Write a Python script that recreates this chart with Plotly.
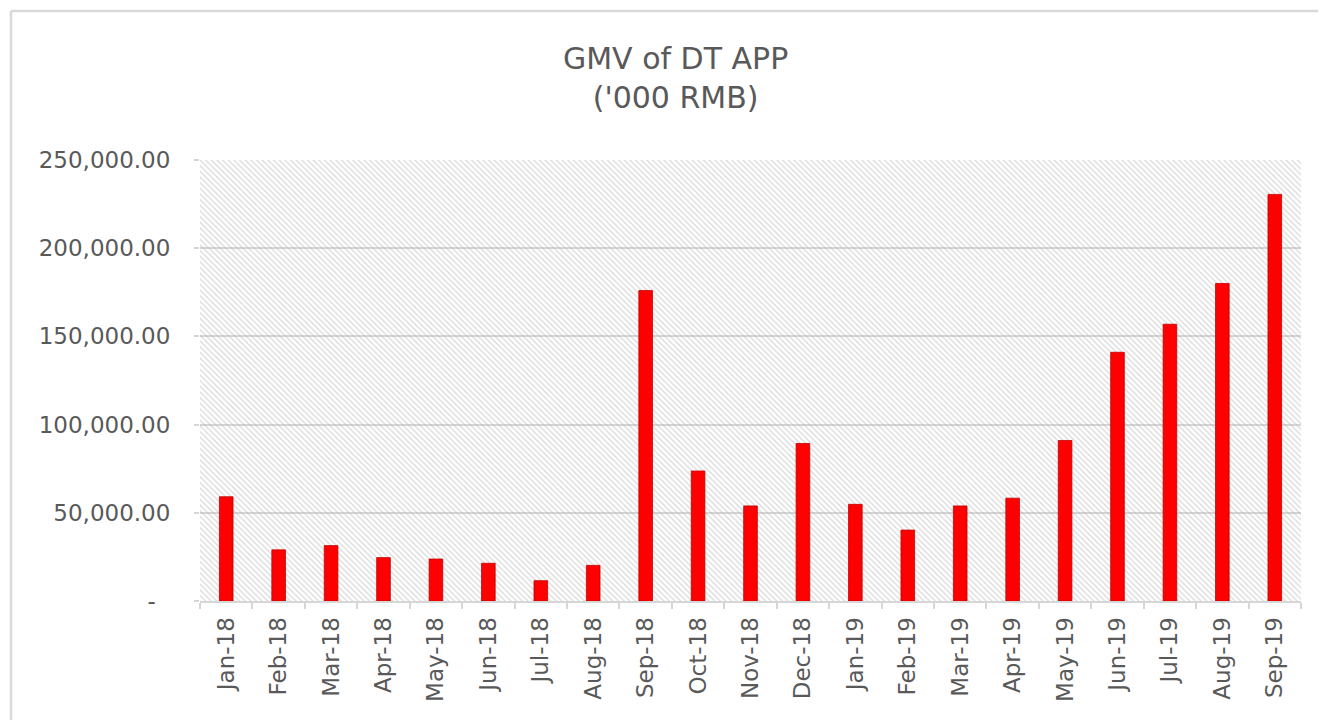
import plotly.graph_objects as go

categories = ["Jan-18", "Feb-18", "Mar-18", "Apr-18", "May-18", "Jun-18", "Jul-18",
              "Aug-18", "Sep-18", "Oct-18", "Nov-18", "Dec-18", "Jan-19", "Feb-19",
              "Mar-19", "Apr-19", "May-19", "Jun-19", "Jul-19", "Aug-19", "Sep-19"]
gmv = [59100, 29000, 31400, 24600, 23800, 21400, 11500,
       20200, 176000, 73700, 53900, 89300, 54800, 40200,
       53900, 58300, 91000, 141000, 156900, 180000, 230500]

y_tickvals = [0, 50000, 100000, 150000, 200000, 250000]
y_ticktext = ["-\u00a0\u00a0", "50,000.00", "100,000.00", "150,000.00", "200,000.00", "250,000.00"]
y_max = 250000

title_text = "GMV of DT APP<br>('000 RMB)"

FONT = "DejaVu Sans"
GREY_TXT = "#595959"
GRID = "#d6d6d6"

fig = go.Figure()

# hatched plot-area background (decorative)
fig.add_trace(go.Bar(
    x=categories, y=[y_max] * len(categories), width=1,
    marker=dict(color="rgba(0,0,0,0)", line=dict(width=0),
                pattern=dict(shape="\\", fgcolor="#b0b0b0", bgcolor="rgba(0,0,0,0)",
                             size=4, solidity=0.3)),
    hoverinfo="skip", showlegend=False,
))

fig.add_trace(go.Bar(
    x=categories, y=gmv, width=0.26,
    marker=dict(color="#ff0000", line=dict(color="#c00000", width=0.8)),
    showlegend=False,
))

fig.update_layout(
    width=1326, height=720,
    margin=dict(l=192, r=33, t=152, b=127),
    paper_bgcolor="white", plot_bgcolor="white",
    barmode="overlay",
    title=dict(text=title_text, x=0.432, xanchor="center", xref="paper",
               y=0.915, yanchor="top",
               font=dict(family=FONT, size=30, color=GREY_TXT)),
    font=dict(family=FONT, color=GREY_TXT),
)

fig.update_xaxes(
    type="category", tickangle=-90,
    tickfont=dict(family=FONT, size=23, color=GREY_TXT),
    showline=True, linecolor=GRID, linewidth=2,
    ticks="outside", tickson="boundaries", ticklen=6, tickcolor=GRID, tickwidth=1.5,
    ticklabelstandoff=5,
    showgrid=False, range=[-0.5, len(categories) - 0.5],
)
fig.update_yaxes(
    range=[0, y_max], tickvals=y_tickvals, ticktext=y_ticktext,
    tickfont=dict(family=FONT, size=23, color=GREY_TXT),
    showgrid=True, gridcolor=GRID, gridwidth=2,
    ticks="outside", ticklen=5, tickcolor=GRID, tickwidth=1.5,
    ticklabelstandoff=19,
    showline=False, zeroline=False,
)

# outer chart border (top and left edges visible in reference)
fig.add_shape(type="line", xref="paper", yref="paper",
              x0=-0.1717, x1=1.04, y0=1.338, y1=1.338,
              line=dict(color="#d9d9d9", width=2.5), layer="above")
fig.add_shape(type="line", xref="paper", yref="paper",
              x0=-0.1717, x1=-0.1717, y0=1.338, y1=-0.3,
              line=dict(color="#d9d9d9", width=2.5), layer="above")

fig.write_html("out.html")
